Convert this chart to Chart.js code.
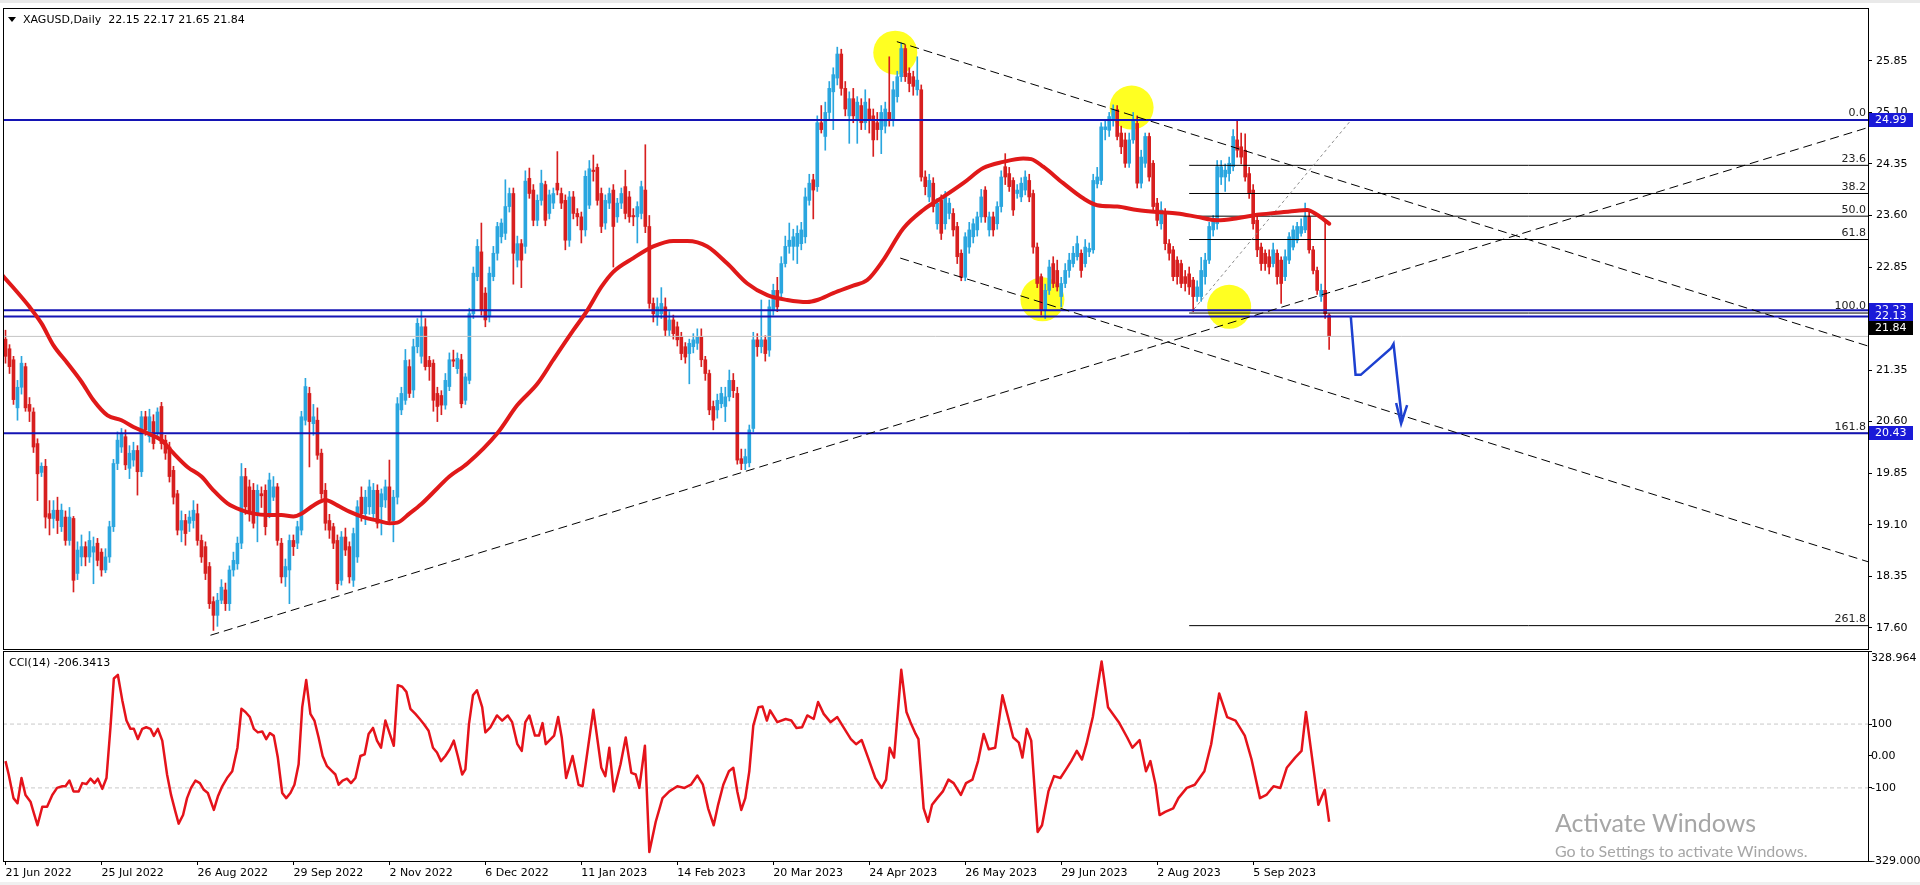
<!DOCTYPE html>
<html>
<head>
<meta charset="utf-8">
<title>XAGUSD, Daily</title>
<script src="https://cdn.jsdelivr.net/npm/chart.js@4.4.1/dist/chart.umd.min.js"></script>
<style>
  html, body { margin: 0; padding: 0; background: #ffffff; }
  body { position: relative; width: 1920px; height: 885px; overflow: hidden; font-family: "DejaVu Sans", sans-serif; }
  canvas { position: absolute; left: 0; }
  #mainChart { top: 0; }
  #cciChart { top: 650px; }
  .strip { position: absolute; left: 0; width: 1920px; background: #e9e9e9; }
  .txt { position: absolute; font-size: 11px; line-height: 13px; color: #000; white-space: pre; }
  .tri { position: absolute; left: 8px; top: 17px; width: 0; height: 0; border-left: 4px solid transparent; border-right: 4px solid transparent; border-top: 5px solid #000; }
  .wm { position: absolute; left: 1555px; font-family: Lato, "Open Sans", sans-serif; color: #a6a6a6; white-space: nowrap; line-height: 1; }
</style>
</head>
<body>
<div class="strip" style="top:0;height:3px"></div>
<div class="strip" style="top:882px;height:3px;background:#f0f0f0"></div>
<canvas id="mainChart" width="1920" height="650"></canvas>
<canvas id="cciChart" width="1920" height="235"></canvas>
<div class="tri"></div>
<div class="txt" style="left:23px;top:13px">XAGUSD,Daily  22.15 22.17 21.65 21.84</div>
<div class="txt" style="left:9px;top:656px">CCI(14) -206.3413</div>
<div class="wm" style="top:810px;font-size:25px">Activate Windows</div>
<div class="wm" style="top:843px;font-size:16px">Go to Settings to activate Windows.</div>
<script>
// bar index of each date label (24 daily bars apart)
const dateIdx = [0, 24, 48, 72, 96, 120, 144, 168, 192, 216, 240, 264, 288, 312];
const dateLabels = ['21 Jun 2022', '25 Jul 2022', '26 Aug 2022', '29 Sep 2022', '2 Nov 2022', '6 Dec 2022',
  '11 Jan 2023', '14 Feb 2023', '20 Mar 2023', '24 Apr 2023', '26 May 2023', '29 Jun 2023', '2 Aug 2023', '5 Sep 2023'];

// daily candles
const opens = [
  21.80,21.66,21.50,20.80,21.10,21.40,20.85,20.74,20.28,19.86,19.95,19.26,
  19.19,19.31,19.07,19.21,18.87,19.19,18.39,18.63,18.78,18.63,18.70,18.83,
  18.70,18.44,18.63,19.07,19.99,20.23,20.38,19.92,20.04,20.18,19.87,20.67,
  20.38,20.60,20.43,20.82,20.33,20.23,19.89,19.55,19.02,19.16,19.12,19.16,
  19.26,18.87,18.78,18.49,17.98,17.78,18.00,18.15,17.95,18.44,18.53,18.83,
  19.80,19.65,19.60,19.26,19.55,19.60,19.26,19.50,19.65,18.83,18.34,18.44,
  18.87,18.83,19.02,20.62,21.01,20.57,20.62,20.14,19.60,19.16,19.07,18.87,
  18.29,18.92,18.78,18.29,18.63,19.50,19.26,19.36,19.26,19.60,19.36,19.46,
  19.65,19.16,19.50,20.77,20.91,21.40,21.06,21.69,21.55,21.98,21.49,21.45,
  21.01,20.98,20.84,21.11,21.50,21.37,21.50,20.91,21.20,22.17,22.71,23.07,
  22.47,22.13,22.71,23.05,23.29,23.34,23.73,23.92,22.95,23.19,23.15,24.14,
  23.97,23.53,23.82,24.05,23.63,23.78,24.07,23.92,23.82,23.24,23.87,23.63,
  23.58,23.39,23.75,24.26,24.30,23.92,23.49,23.78,23.97,23.58,23.78,24.02,
  23.87,23.60,23.58,23.63,23.97,23.44,22.32,22.13,22.17,22.27,21.93,22.08,
  21.98,21.83,21.69,21.59,21.69,21.74,21.83,21.50,21.30,20.82,20.77,20.86,
  20.82,20.96,21.20,21.01,20.06,19.99,20.00,20.50,21.79,21.69,21.79,21.64,
  22.22,22.51,22.47,22.90,23.15,23.15,23.15,23.19,23.29,23.82,24.12,24.02,
  24.95,24.75,25.10,25.40,25.60,25.95,25.45,25.05,25.30,25.00,25.20,24.95,
  25.15,25.05,24.95,24.85,24.90,25.10,24.99,25.33,25.62,26.03,25.67,25.62,
  25.43,25.43,24.16,23.87,24.07,23.48,23.82,23.48,23.63,23.63,23.44,23.05,
  22.70,23.14,23.29,23.39,23.58,23.97,23.39,23.58,23.48,23.73,24.31,24.21,
  24.11,23.92,23.87,23.97,24.11,23.92,23.14,22.71,22.22,22.51,22.90,22.80,
  22.42,22.61,22.80,22.90,23.00,23.05,22.90,23.07,23.10,24.06,24.11,24.85,
  24.84,24.99,25.14,24.80,24.70,24.36,24.70,24.94,24.07,24.36,24.75,24.36,
  23.78,23.48,23.63,23.19,23.10,22.95,22.90,22.71,22.75,22.66,22.42,22.42,
  22.71,22.95,23.39,23.48,24.16,24.16,24.21,24.31,24.70,24.60,24.55,24.21,
  23.97,23.53,23.14,23.05,23.00,22.90,23.05,22.95,22.71,22.95,23.14,23.24,
  23.34,23.39,23.58,23.10,22.80,22.42,22.51,22.15
];
const highs = [
  21.93,21.72,21.55,21.20,21.55,21.45,20.95,20.80,20.35,20.00,20.05,19.45,
  19.45,19.50,19.40,19.30,19.35,19.22,18.85,18.95,18.85,19.00,18.92,18.90,
  18.75,18.75,19.15,20.05,20.45,20.50,20.48,20.25,20.30,20.25,20.75,20.75,
  20.78,20.70,20.80,20.88,20.40,20.30,19.95,19.60,19.30,19.25,19.30,19.45,
  19.40,18.95,18.85,18.55,18.05,18.10,18.30,18.25,18.50,18.70,18.92,19.99,
  19.92,19.75,19.70,19.68,19.65,19.68,19.85,19.80,19.70,18.90,18.60,18.95,
  18.95,19.15,20.75,21.23,21.10,20.85,20.80,20.20,19.70,19.25,19.12,18.95,
  19.00,19.05,18.85,19.05,19.45,19.65,19.60,19.75,19.70,19.68,19.62,19.75,
  20.04,19.60,20.95,21.10,21.65,21.50,21.80,22.10,22.22,22.10,21.55,21.50,
  21.10,21.05,21.30,21.60,21.64,21.60,21.58,21.30,22.25,22.85,23.25,23.49,
  22.55,22.85,23.15,23.50,23.55,24.12,24.00,24.00,23.30,23.25,24.25,24.29,
  24.05,23.90,24.26,24.10,23.97,24.00,24.53,24.00,23.90,23.95,23.95,23.70,
  23.65,24.25,24.40,24.48,24.35,24.00,23.90,24.00,24.05,23.85,24.00,24.26,
  23.95,23.70,23.80,24.10,24.63,23.60,22.40,22.40,22.55,22.40,22.20,22.15,
  22.05,21.90,21.75,21.80,21.88,21.95,21.95,21.55,21.35,20.90,21.00,21.10,
  21.10,21.35,21.30,21.10,20.20,20.20,20.55,21.90,21.88,22.37,21.85,22.37,
  22.60,22.70,23.00,23.30,23.49,23.40,23.45,23.50,24.00,24.20,24.20,25.05,
  25.20,25.25,25.55,25.75,26.05,26.02,25.55,25.40,25.45,25.33,25.30,25.43,
  25.30,25.15,25.10,25.20,25.25,25.91,25.55,25.70,26.11,26.08,25.75,25.70,
  25.91,25.50,24.25,24.20,24.15,23.85,23.90,23.95,23.85,23.70,23.50,23.10,
  23.35,23.50,23.55,23.65,23.98,24.02,23.65,23.65,23.80,24.25,24.50,24.30,
  24.15,24.05,24.15,24.25,24.20,23.97,23.20,22.75,22.60,22.95,23.00,22.95,
  22.70,22.90,23.05,23.15,23.30,23.10,23.25,23.20,24.20,24.30,24.95,25.00,
  25.10,25.21,25.20,24.90,24.80,24.80,25.10,25.05,24.55,24.80,24.80,24.40,
  23.85,23.80,23.70,23.25,23.15,23.00,22.95,22.80,22.85,22.70,22.65,22.99,
  23.05,23.50,23.60,24.40,24.40,24.35,24.45,24.85,24.99,24.80,24.79,24.30,
  24.05,23.60,23.20,23.10,23.10,23.20,23.10,23.00,23.10,23.35,23.45,23.50,
  23.55,23.78,23.65,23.15,22.85,22.60,23.50,22.17
];
const lows = [
  21.45,21.30,20.85,20.62,21.00,20.75,20.60,20.15,19.45,19.80,19.05,18.95,
  19.05,18.97,19.00,18.80,18.80,18.12,18.30,18.50,18.50,18.55,18.24,18.50,
  18.35,18.40,18.55,19.00,19.90,20.15,19.90,19.77,19.95,19.53,19.80,20.40,
  20.30,20.20,20.35,20.20,20.05,19.72,19.40,18.95,18.85,18.80,19.00,19.05,
  18.80,18.55,18.30,17.88,17.56,17.62,17.95,17.85,17.85,18.35,18.45,18.75,
  19.25,19.15,19.05,18.85,19.35,18.95,19.20,19.45,18.80,18.25,18.20,17.95,
  18.65,18.75,18.95,20.55,19.94,20.40,20.05,19.48,19.02,18.90,18.75,18.15,
  18.22,18.65,18.25,18.20,18.55,19.15,19.10,19.25,19.20,19.05,18.95,19.35,
  19.10,18.85,19.40,20.70,20.85,20.95,20.95,21.60,21.45,21.35,21.20,20.75,
  20.60,20.70,20.78,21.05,21.40,21.30,20.80,20.85,21.15,22.10,22.65,22.15,
  21.98,22.05,22.65,22.95,23.20,23.25,23.65,22.60,22.85,22.55,23.05,23.85,
  23.45,23.45,23.75,23.45,23.55,23.70,23.90,23.70,23.10,23.15,23.55,23.45,
  23.20,23.30,23.70,24.10,23.75,23.35,23.40,23.70,22.85,23.50,23.70,23.55,
  23.50,23.45,23.20,23.55,23.35,22.25,22.05,22.00,22.10,21.85,21.85,21.80,
  21.70,21.50,21.45,21.15,21.60,21.65,21.40,21.20,20.70,20.48,20.65,20.80,
  20.60,20.90,20.95,19.98,19.90,19.90,19.94,20.45,21.55,21.60,21.48,21.55,
  22.15,22.20,22.40,22.85,23.05,22.95,22.90,23.10,23.20,23.75,23.55,23.95,
  24.80,24.55,25.00,24.85,25.50,25.35,25.05,24.65,24.95,24.65,24.85,24.85,
  24.80,24.46,24.70,24.50,24.80,24.90,24.90,25.25,25.55,25.55,25.40,25.35,
  25.35,24.10,23.90,23.80,23.65,23.40,23.25,23.40,23.55,23.30,22.90,22.65,
  22.65,23.05,23.20,23.30,23.50,23.50,23.30,23.30,23.40,23.65,24.05,23.95,
  23.60,23.85,23.80,23.90,23.80,23.05,22.55,22.15,22.10,22.45,22.55,22.50,
  22.27,22.55,22.70,22.85,22.95,22.70,22.85,23.00,23.05,24.00,24.05,24.70,
  24.75,24.90,24.70,24.50,24.30,24.30,24.65,24.00,24.00,24.30,24.10,23.65,
  23.45,23.40,23.10,22.95,22.65,22.60,22.55,22.50,22.45,22.20,22.35,22.35,
  22.60,22.90,23.30,23.40,24.05,23.95,24.10,24.25,24.45,24.35,24.10,23.85,
  23.40,23.00,22.80,22.80,22.75,22.85,22.60,22.32,22.65,22.90,23.10,23.20,
  23.30,23.35,23.05,22.75,22.45,22.35,22.10,21.65
];
const closes = [
  21.55,21.40,20.92,21.10,21.45,20.80,20.75,20.23,19.84,19.95,19.21,19.19,
  19.31,19.16,19.31,18.87,19.21,18.29,18.73,18.78,18.63,18.87,18.78,18.58,
  18.44,18.63,19.07,19.99,20.33,20.43,19.97,20.14,20.18,19.87,20.67,20.48,
  20.67,20.28,20.74,20.28,20.14,19.80,19.50,19.02,19.16,18.97,19.21,19.31,
  18.87,18.63,18.39,17.95,17.78,18.00,18.19,17.95,18.44,18.58,18.83,19.80,
  19.36,19.26,19.12,19.60,19.52,19.07,19.75,19.65,18.87,18.34,18.49,18.87,
  18.78,19.07,20.67,21.11,20.60,20.67,20.11,19.55,19.12,19.02,18.83,18.24,
  18.92,18.73,18.34,18.97,19.36,19.26,19.50,19.65,19.60,19.12,19.55,19.65,
  19.16,19.50,20.86,21.01,21.49,21.01,21.69,22.03,21.98,21.40,21.40,20.91,
  20.82,20.84,21.20,21.50,21.48,21.52,20.86,21.25,22.17,22.76,23.15,22.22,
  22.08,22.76,23.05,23.44,23.49,23.73,23.92,23.05,23.19,22.95,24.10,23.92,
  23.53,23.82,24.07,23.53,23.90,23.92,23.97,23.78,23.24,23.87,23.63,23.58,
  23.39,24.17,24.28,24.24,23.82,23.44,23.82,23.92,23.44,23.78,23.92,23.63,
  23.58,23.58,23.73,24.02,23.44,22.32,22.17,22.27,22.32,21.93,22.08,21.88,
  21.79,21.59,21.54,21.74,21.79,21.83,21.50,21.30,20.77,20.62,20.91,21.01,
  20.96,21.20,21.05,20.04,19.99,20.09,20.48,21.79,21.69,21.79,21.59,22.27,
  22.51,22.27,22.90,23.15,23.24,23.29,23.34,23.39,23.87,24.07,23.97,24.95,
  24.85,25.10,25.45,25.65,25.95,25.45,25.15,25.30,25.05,25.25,24.95,25.25,
  24.98,24.70,24.85,25.10,25.15,24.98,25.43,25.62,26.03,25.62,25.52,25.48,
  25.57,24.16,24.02,24.11,23.73,23.78,23.34,23.87,23.78,23.39,23.00,22.70,
  23.29,23.39,23.48,23.58,23.87,23.58,23.58,23.39,23.73,24.16,24.16,24.02,
  23.68,23.97,24.07,24.16,23.87,23.14,22.61,22.22,22.51,22.85,22.61,22.56,
  22.61,22.80,22.95,23.05,23.19,22.80,23.14,23.12,24.11,24.16,24.89,24.89,
  25.04,25.14,24.75,24.60,24.36,24.70,24.99,24.07,24.45,24.75,24.16,23.73,
  23.53,23.68,23.19,23.05,22.71,22.71,22.61,22.61,22.56,22.42,22.56,22.80,
  22.95,23.44,23.53,24.31,24.31,24.26,24.36,24.75,24.55,24.45,24.16,23.92,
  23.48,23.10,22.90,22.90,22.85,23.10,22.71,22.61,23.00,23.29,23.39,23.44,
  23.44,23.58,23.10,22.80,22.51,22.51,22.17,21.84
];

// red moving average, [bar, price] read at intervals
const maPoints = [
  [-0.6,22.72],[6,22.27],[9,22.03],[12,21.71],[15.5,21.45],[19,21.18],[22,20.91],[25.5,20.69],[29,20.62],
  [32,20.52],[35.5,20.43],[39,20.33],[42,20.14],[45.5,19.94],[49,19.80],[52,19.60],[55.5,19.41],[59,19.31],
  [62,19.26],[65.5,19.24],[69,19.24],[72,19.22],[74,19.26],[77,19.38],[80,19.46],[83,19.38],[86,19.29],
  [89.5,19.21],[93,19.16],[96,19.12],[98,19.13],[101,19.26],[104,19.40],[108,19.63],[111,19.80],[115.5,19.99],
  [123,20.43],[128,20.84],[133,21.15],[137,21.50],[142,21.93],[145.5,22.22],[149,22.56],[152,22.78],[157,22.98],
  [162,23.15],[167,23.23],[170.5,23.23],[175.5,23.15],[180.5,22.90],[185.5,22.61],[190.5,22.44],[195.5,22.37],
  [200.5,22.34],[203,22.37],[207,22.47],[212,22.58],[215.5,22.66],[219.5,22.95],[224.5,23.41],[229.5,23.68],
  [234.5,23.87],[239.5,24.07],[244.5,24.29],[249.5,24.38],[254.5,24.43],[256.5,24.42],[259.5,24.31],[264.5,24.07],
  [269.5,23.85],[273,23.75],[278,23.73],[283,23.68],[288,23.65],[293,23.63],[298,23.58],[303,23.53],[308,23.56],
  [313,23.61],[318,23.64],[323,23.67],[325.5,23.68],[328,23.61],[331,23.48]
];

// CCI(14), [bar, value]
const cciPoints = [
  [0,-16],[0.8,-58],[2,-132],[3,-148],[4,-69],[5,-122],[6.25,-143],[7,-175],[8,-217],[9.2,-159],[10.4,-159],
  [11.7,-122],[12.9,-100],[14.2,-95],[15,-95],[16,-77],[17,-111],[18.3,-111],[19.2,-85],[20.25,-88],[21.25,-71],
  [22.25,-85],[23.1,-71],[24.2,-103],[25.25,-69],[26.25,90],[27.1,243],[28.1,254],[29.2,175],[30.25,111],
  [31.25,85],[32.1,85],[33.1,53],[34.2,85],[35.2,90],[36.25,85],[37.1,63],[38.1,85],[39.2,48],[40.4,-58],
  [41.4,-122],[42.5,-175],[43.3,-212],[44.4,-185],[45.4,-132],[46.4,-100],[47.5,-77],[48.6,-85],[49.6,-106],
  [50.6,-116],[52.1,-169],[53.1,-127],[54.2,-95],[55.4,-69],[56.7,-48],[58,26],[59,148],[60,138],[61.1,122],
  [62.1,85],[63.1,74],[64.2,77],[65.2,53],[66.1,72],[67.1,63],[68.1,-5],[69.2,-116],[70.2,-132],[71.25,-116],
  [72.25,-90],[73.3,-26],[74.2,153],[75.2,238],[76.25,132],[77.25,111],[78.3,58],[79.3,0],[80.4,-32],[81.7,-48],
  [82.5,-58],[83.3,-90],[84.3,-77],[85.4,-71],[86.4,-85],[87.5,-69],[88.75,0],[89.8,5],[90.8,69],[91.9,88],
  [92.9,48],[93.9,26],[95,111],[96.1,69],[97.1,32],[98.1,222],[99.2,217],[100.25,201],[101.25,148],[102.5,132],
  [103.6,116],[104.6,100],[105.8,79],[106.9,26],[107.9,11],[108.9,-16],[110,0],[111.1,21],[112.1,48],[113.1,0],
  [114.2,-58],[115,-42],[115.9,100],[116.9,190],[117.9,206],[119.2,153],[120,74],
  [121.25,90],[122.9,127],[124.2,111],[125.6,127],[126.7,106],[128,37],[129.1,16],[130,106],[131,127],[132.4,64],
  [133.4,64],[134.3,103],[135.1,37],[137.2,64],[138.2,122],[139.1,58],[140.2,-69],[141.8,0],[143.3,-90],[144.3,-95],
  [147,145],[149,-37],[150,-63],[151,26],[152.1,-111],[153.8,-26],[155.1,58],[156.5,-53],[157.6,-58],[158.5,-100],
  [159.9,32],[161,-301],[162.6,-206],[164.3,-132],[166,-111],[168,-95],[169.8,-100],[171.4,-90],[173,-61],
  [174.4,-90],[175.7,-164],[177.1,-217],[178.2,-153],[179.5,-90],[180.9,-48],[182,-37],[183,-111],[184,-169],
  [185,-132],[186,-48],[187,95],[188.3,153],[189.3,155],[190.4,111],[191.2,143],[193,106],[195.1,116],[196.5,111],
  [197.8,88],[199.2,90],[200.5,127],[202.1,116],[203.2,169],[204.6,132],[206.3,106],[208,122],[209.3,95],
  [211.4,53],[212.7,37],[214.1,50],[215.7,-5],[217.5,-69],[219.1,-100],[220.2,-74],[221.1,26],[222.2,-5],
  [224,270],[225.3,138],[226.3,106],[227.6,69],[228.3,53],[229.6,-164],[230.7,-206],[231.7,-153],[233,-132],
  [234.4,-111],[235.8,-74],[237.1,-85],[238.9,-122],[240.2,-85],[241.8,-74],[243.2,-16],[244.6,69],[245.9,21],
  [247.5,26],[249.3,190],[250.7,122],[252,58],[253.4,42],[254.3,-5],[255.4,85],[256.5,48],[258.1,-238],
  [259.2,-217],[260.8,-111],[262.2,-63],[263.8,-69],[265.2,-42],[266.5,-16],[267.9,16],[269.2,-11],[270.3,37],
  [271.9,122],[274.1,296],[275.7,153],[278.4,106],[280.5,58],[281.8,26],[283.6,50],[285.2,-48],[286.3,-16],
  [287.6,-90],[288.6,-185],[290,-175],[292,-164],[293.3,-132],[295.4,-100],[297.4,-90],[299.8,-48],[301.5,37],
  [303.5,196],[305.5,122],[307.6,111],[309.9,64],[311.6,-11],[313.7,-132],[315.3,-122],[317.1,-95],[318.8,-100],
  [320.4,-37],[322.5,-5],[324.1,16],[325.2,138],[326.5,16],[328.3,-153],[329.9,-106],[331,-206]
];

const priceTicks = [25.85, 25.10, 24.35, 23.60, 22.85, 22.10, 21.35, 20.60, 19.85, 19.10, 18.35, 17.60];
const cciTicks = [328.964, 100, 0, -100, -329];
const cciTickLabels = ['328.964', '100', '0.00', '-100', '-329.000'];

// horizontal levels and the current bid
const levelPrices = [24.99, 22.22, 22.13, 20.43];
const bidPrice = 21.84;

// fibonacci retracement, drawn from bar 296 to the right edge
const fibStartIdx = 296;
const fibLabels = ['0.0', '23.6', '38.2', '50.0', '61.8', '100.0', '161.8', '261.8'];
const fibPrices = [24.99, 24.33, 23.92, 23.59, 23.25, 22.18, 20.43, 17.63];

// trend lines, [bar, price] end points
const supportLine = [[51.25, 17.49], [465.75, 24.88]];
const upperLine = [[222.9, 26.13], [465.75, 21.70]];
const lowerLine = [[223.75, 22.98], [465.75, 18.56]];
const fibDiagonal = [[296.25, 22.17], [336.5, 24.99]];

// yellow highlight circles
const circleIdx = [222.5, 281.6, 259.3, 306];
const circlePrice = [25.97, 25.17, 22.38, 22.27];

// hand drawn blue arrow
const arrowPath = [[336.4, 22.14], [337.6, 21.28], [338.9, 21.28], [346.5, 21.67], [347.1, 21.73], [349.25, 20.60]];
const arrowHead = [[347.75, 20.87], [349, 20.57], [350.5, 20.84]];

const X_MIN = -0.625, X_MAX = 465.75;
const Y_MIN = 17.29, Y_MAX = 26.62;
const UP = '#2aa6df', DOWN = '#d71f1f', LEVEL = '#1414b4', TAG = '#1a1ad8';
const FONT = '11px "DejaVu Sans"';

Chart.defaults.font.family = '"DejaVu Sans", sans-serif';
Chart.defaults.font.size = 11;
Chart.defaults.color = '#000';
Chart.defaults.animation = false;
Chart.defaults.events = [];
Chart.defaults.plugins.legend.display = false;
Chart.defaults.plugins.tooltip.enabled = false;
Chart.defaults.elements.point.radius = 0;
Chart.defaults.elements.point.hoverRadius = 0;

function seg(points, color, width, dash, order) {
  return {
    type: 'line',
    data: points.map(p => ({ x: p[0], y: p[1] })),
    borderColor: color, borderWidth: width, borderDash: dash,
    pointRadius: 0, fill: false, tension: 0, order: order
  };
}

function fixY(s) {
  s.width = 52;
  s.paddingTop = 0;
  s.paddingBottom = 0;
}

const candleColors = closes.map((c, i) => (c >= opens[i] ? UP : DOWN));

const mainDecor = {
  id: 'mainDecor',
  afterDatasetsDraw(chart) {
    const { ctx, chartArea: a, scales: { y } } = chart;
    ctx.save();
    ctx.font = FONT;
    ctx.fillStyle = '#222';
    ctx.textAlign = 'right';
    ctx.textBaseline = 'bottom';
    fibLabels.forEach((t, k) => ctx.fillText(t, a.right - 2, y.getPixelForValue(fibPrices[k]) - 1));
    ctx.restore();
  },
  afterDraw(chart) {
    const { ctx, chartArea: a, scales: { y } } = chart;
    ctx.save();
    ctx.strokeStyle = '#000';
    ctx.lineWidth = 1;
    ctx.strokeRect(a.left + 0.5, a.top + 0.5, a.right - a.left, a.bottom - a.top);
    ctx.font = FONT;
    ctx.textAlign = 'left';
    ctx.textBaseline = 'middle';
    const tags = levelPrices.concat([bidPrice]);
    tags.forEach(v => {
      let yc = Math.round(y.getPixelForValue(v));
      // MT4 lifts the bid tag so it sits above the level tags
      if (v === bidPrice) yc -= 8;
      ctx.fillStyle = v === bidPrice ? '#000' : TAG;
      ctx.fillRect(a.right + 1, yc - 7, 44, 14);
      ctx.fillStyle = '#fff';
      ctx.fillText(v.toFixed(2), a.right + 7, yc);
    });
    ctx.restore();
  }
};

new Chart(document.getElementById('mainChart'), {
  type: 'bar',
  data: {
    datasets: [
      {
        type: 'line',
        data: circleIdx.map((x, k) => ({ x: x, y: circlePrice[k] })),
        showLine: false, pointRadius: 22, pointHoverRadius: 22,
        pointBackgroundColor: '#ffff22', pointBorderWidth: 0, order: 9
      },
      {
        data: closes.map((c, i) => ({ x: i, y: [lows[i], highs[i]] })),
        backgroundColor: candleColors, barThickness: 1, grouped: false, order: 8
      },
      {
        data: closes.map((c, i) => ({ x: i, y: [opens[i], c] })),
        backgroundColor: candleColors, barThickness: 3, minBarLength: 1, grouped: false, order: 7
      },
      seg([[X_MIN, bidPrice], [X_MAX, bidPrice]], '#c4c4c4', 1, [], 6),
      ...fibPrices.map(p => seg([[fibStartIdx, p], [X_MAX, p]], '#000', 1, [], 5)),
      ...levelPrices.map(p => seg([[X_MIN, p], [X_MAX, p]], LEVEL, 2, [], 4)),
      seg(supportLine, '#000', 1, [9, 5], 3),
      seg(upperLine, '#000', 1, [9, 5], 3),
      seg(lowerLine, '#000', 1, [9, 5], 3),
      seg(fibDiagonal, '#8a8a8a', 1, [3, 3], 3),
      {
        type: 'line',
        data: maPoints.map(p => ({ x: p[0], y: p[1] })),
        borderColor: '#e01919', borderWidth: 4, cubicInterpolationMode: 'monotone',
        borderCapStyle: 'round', pointRadius: 0, order: 2
      },
      seg(arrowPath, '#1d40d0', 2.5, [], 1),
      seg(arrowHead, '#1d40d0', 2.5, [], 1)
    ]
  },
  options: {
    responsive: false,
    devicePixelRatio: 1,
    layout: { autoPadding: false, padding: { left: 3, top: 8, right: 0, bottom: 1 } },
    scales: {
      x: { type: 'linear', min: X_MIN, max: X_MAX, display: false, offset: false, grid: { offset: false } },
      y: {
        position: 'right', min: Y_MIN, max: Y_MAX, beginAtZero: false,
        afterFit: fixY,
        afterBuildTicks: s => { s.ticks = priceTicks.map(v => ({ value: v })); },
        ticks: { callback: v => v.toFixed(2), padding: 4, autoSkip: false, color: '#000' },
        grid: { drawOnChartArea: false, tickLength: 4, color: '#000' },
        border: { color: '#000' }
      }
    }
  },
  plugins: [mainDecor]
});

const cciDecor = {
  id: 'cciDecor',
  afterDraw(chart) {
    const { ctx, chartArea: a, scales: { y } } = chart;
    ctx.save();
    ctx.strokeStyle = '#000';
    ctx.lineWidth = 1;
    ctx.strokeRect(a.left + 0.5, a.top + 0.5, a.right - a.left, a.bottom - a.top);
    ctx.font = FONT;
    ctx.fillStyle = '#000';
    ctx.textAlign = 'left';
    cciTicks.forEach((v, k) => {
      // the top value is written just under the panel edge
      ctx.textBaseline = k === 0 ? 'top' : 'middle';
      ctx.fillText(cciTickLabels[k], a.right + 3, y.getPixelForValue(v) + (k === 0 ? 2 : 0));
    });
    ctx.restore();
  }
};

new Chart(document.getElementById('cciChart'), {
  type: 'line',
  data: {
    datasets: [
      seg([[X_MIN, 100], [X_MAX, 100]], '#c8c8c8', 1, [4, 3], 2),
      seg([[X_MIN, -100], [X_MAX, -100]], '#c8c8c8', 1, [4, 3], 2),
      {
        data: cciPoints.map(p => ({ x: p[0], y: p[1] })),
        borderColor: '#e5131b', borderWidth: 2.5, tension: 0, borderJoinStyle: 'round',
        pointRadius: 0, order: 1
      }
    ]
  },
  options: {
    responsive: false,
    devicePixelRatio: 1,
    layout: { autoPadding: false, padding: { left: 3, top: 1, right: 0, bottom: 3 } },
    scales: {
      x: {
        type: 'linear', min: X_MIN, max: X_MAX, offset: false,
        afterFit: s => { s.height = 21; s.paddingLeft = 0; s.paddingRight = 0; },
        afterBuildTicks: s => { s.ticks = dateIdx.map(v => ({ value: v })); },
        ticks: {
          callback: (v, i) => dateLabels[i], align: 'start', autoSkip: false,
          maxRotation: 0, minRotation: 0, padding: 2, color: '#000'
        },
        grid: { drawOnChartArea: false, tickLength: 4, color: '#000', offset: false },
        border: { color: '#000' }
      },
      y: {
        position: 'right', min: -329, max: 328.964,
        afterFit: fixY,
        afterBuildTicks: s => { s.ticks = cciTicks.map(v => ({ value: v })); },
        ticks: { display: false },
        grid: { drawOnChartArea: false, tickLength: 4, color: '#000' },
        border: { color: '#000' }
      }
    }
  },
  plugins: [cciDecor]
});
</script>
</body>
</html>
